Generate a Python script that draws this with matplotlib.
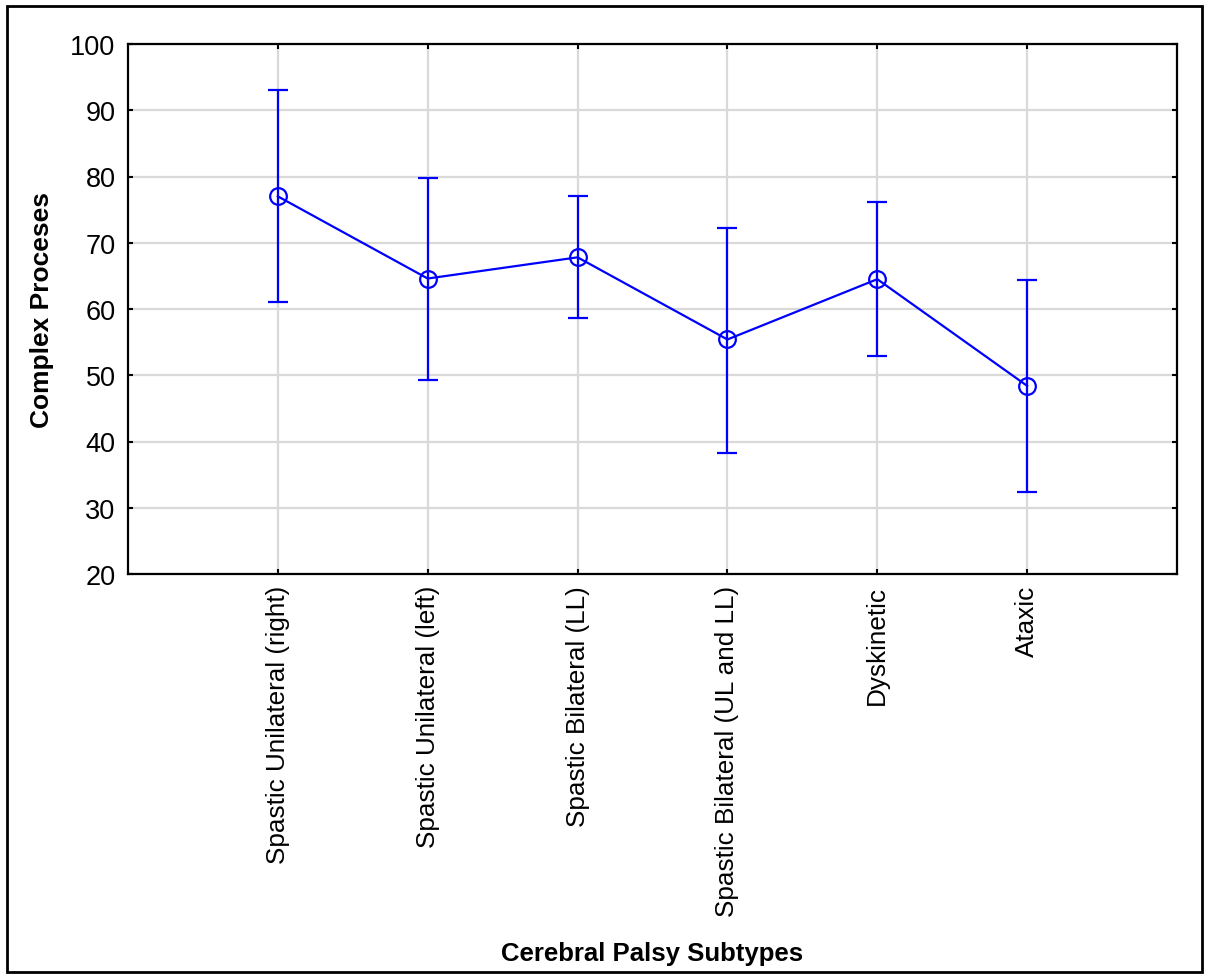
import matplotlib
matplotlib.use("Agg")
import matplotlib.pyplot as plt
from matplotlib.patches import Rectangle

plt.rcParams['font.family'] = ['Liberation Sans', 'DejaVu Sans']

# Data
subtypes = [
    "Spastic Unilateral (right)",
    "Spastic Unilateral (left)",
    "Spastic Bilateral (LL)",
    "Spastic Bilateral (UL and LL)",
    "Dyskinetic",
    "Ataxic",
]
means = [77.0, 64.6, 67.8, 55.4, 64.5, 48.4]
upper = [93.0, 79.8, 77.1, 72.3, 76.2, 64.4]
lower = [61.0, 49.3, 58.6, 38.3, 52.9, 32.4]

x = list(range(len(subtypes)))
err_lo = [m - lo for m, lo in zip(means, lower)]
err_hi = [hi - m for m, hi in zip(means, upper)]

fig = plt.figure(figsize=(12.09, 9.79), dpi=100)
ax = fig.add_axes([128 / 1209, 1 - 575 / 979, (1177 - 128) / 1209, (575 - 45) / 979])

ax.errorbar(x, means, yerr=[err_lo, err_hi], color='#0000ff', lw=1.6,
            marker='o', markersize=12, markerfacecolor='none',
            markeredgewidth=1.6, capsize=7.5, capthick=1.6, zorder=3)

ax.set_xlim(-1, len(subtypes))
ax.set_ylim(20, 100)
ax.set_yticks(range(20, 101, 10))
ax.set_xticks(x)
ax.set_xticklabels(subtypes, rotation=90, fontsize=18.8)
ax.tick_params(axis='y', labelsize=19.5, pad=9)
ax.tick_params(axis='x', pad=8)
ax.tick_params(direction='in', length=3.5, width=1.5, top=True, right=True)
ax.grid(True, color='#d9d9d9', lw=1.6, zorder=0)
ax.set_axisbelow(True)
for s in ax.spines.values():
    s.set_linewidth(1.6)

ax.set_ylabel("Complex Proceses", fontsize=19, fontweight='bold', labelpad=12)
fig.text(652 / 1209, 1 - 954 / 979, "Cerebral Palsy Subtypes", fontsize=18.5,
         fontweight='bold', ha='center', va='center')

# outer frame around the figure
fig.patches.append(Rectangle((7 / 1209, 6 / 979), 1195 / 1209, 966 / 979,
                             transform=fig.transFigure, fill=False,
                             edgecolor='black', lw=2))

fig.savefig("out.png", dpi=100)
